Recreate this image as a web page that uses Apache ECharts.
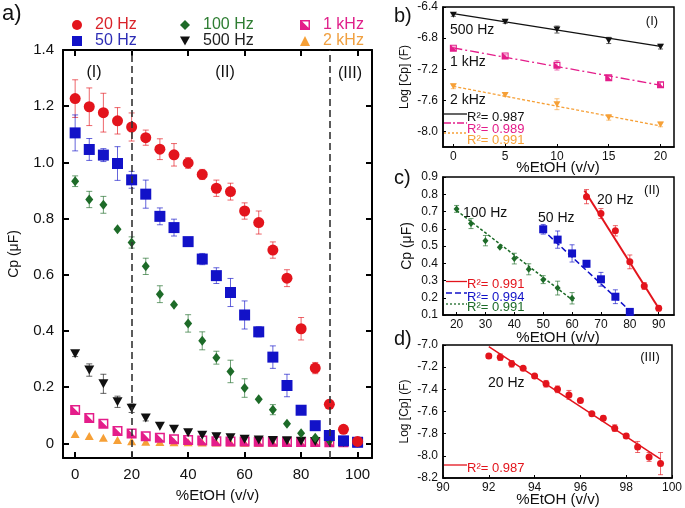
<!DOCTYPE html>
<html><head><meta charset="utf-8">
<script src="https://cdn.jsdelivr.net/npm/echarts@6.0.0/dist/echarts.min.js"></script>
<style>html,body{margin:0;padding:0;background:#fff}#c{width:685px;height:508px}</style>
</head><body><div id="c"></div>
<script>
const FONT = "'Liberation Sans', Arial, Helvetica, sans-serif";

// ---------- Panel a data ----------
const xA = [0,5,10,15,20,25,30,35,40,45,50,55,60,65,70,75,80,85,90,95,100];
const hz20 = [1.227,1.198,1.177,1.148,1.126,1.088,1.047,1.027,0.998,0.957,0.908,0.896,0.827,0.786,0.688,0.588,0.408,0.268,0.139,0.050,0.007];
const hz20Err = [0.067,0.067,0.069,0.047,0.05,0.027,0.037,0.04,0.019,0.018,0.029,0.03,0.029,0.041,0.029,0.03,0.04,0.02,0.015,0,0];
const hz50 = [1.105,1.046,1.026,0.996,0.938,0.887,0.808,0.768,0.718,0.656,0.597,0.537,0.457,0.397,0.307,0.206,0.118,0.063,0.028,0.009,0.004];
const hz50Err = [0.064,0.039,0.023,0.06,0.03,0.05,0.03,0.03,0,0.02,0.028,0.05,0.05,0.018,0.04,0.04,0,0,0,0,0];
const hz100 = [0.933,0.868,0.849,0.762,0.715,0.630,0.531,0.493,0.427,0.365,0.305,0.256,0.197,0.157,0.120,0.070,0.036,0.020,0.010,0.005,0.003];
const hz100Err = [0.019,0.029,0.03,0,0.02,0.029,0.03,0,0.031,0.032,0.023,0.04,0.033,0,0.018,0,0,0,0,0,0];
const hz500 = [0.319,0.261,0.212,0.148,0.125,0.090,0.061,0.050,0.038,0.029,0.024,0.020,0.015,0.012,0.010,0.009,0.008,0.007,0.006,0.005,0.004];
const hz500Err = [0.01,0.022,0.034,0.02,0.015,0.01,0,0,0,0,0,0,0,0,0,0,0,0,0,0,0];
const k1 = [0.119,0.090,0.070,0.044,0.035,0.025,0.020,0.015,0.012,0.010,0.008,0.007,0.007,0.006,0.006,0.005,0.005,0.005,0.004,0.004,0.004];
const k2 = [0.033,0.026,0.020,0.012,0.008,0.006,0.005,0.004,0.004,0.003,0.003,0.003,0.002,0.002,0.002,0.002,0.002,0.002,0.002,0.002,0.002];
const aTicksX = [0,20,40,60,80,100];
const aTicksY = [0,0.2,0.4,0.6,0.8,1.0,1.2,1.4];
const aRegions = [20,90];

// ---------- Panel b data ----------
const xB = [0,5,10,15,20];
const b500 = [-6.50,-6.59,-6.69,-6.83,-6.91];
const b500Err = [0.02,0.02,0.045,0.04,0.03];
const b1k = [-6.93,-7.03,-7.15,-7.31,-7.40];
const b1kErr = [0.015,0.015,0.06,0.03,0.03];
const b2k = [-7.42,-7.53,-7.65,-7.82,-7.91];
const b2kErr = [0.03,0.02,0.07,0.035,0.03];
const bFit500 = [[0,-6.484],[20,-6.905]];
const bFit1k = [[0,-6.926],[20,-7.405]];
const bFit2k = [[0,-7.42],[20,-7.93]];
const bTicksX = [0,5,10,15,20];
const bTicksY = [-8.0,-7.6,-7.2,-6.8,-6.4];

// ---------- Panel c (subsets of panel a) ----------
const cRange20 = [65,90], cRange50 = [50,80], cRange100 = [20,60];
const cFit20 = [[64.3,0.822],[90.6,0.123]];
const cFit50 = [[49.5,0.599],[81.6,0.1]];
const cFit100 = [[20,0.706],[60.5,0.182]];
const cTicksX = [20,30,40,50,60,70,80,90];
const cTicksY = [0.1,0.2,0.3,0.4,0.5,0.6,0.7,0.8,0.9];

// ---------- Panel d data ----------
const xD = [92,92.5,93,93.5,94,94.5,95,95.5,96,96.5,97,97.5,98,98.5,99,99.5];
const dVals = [-7.10,-7.11,-7.17,-7.21,-7.28,-7.35,-7.40,-7.45,-7.50,-7.62,-7.66,-7.75,-7.82,-7.92,-8.01,-8.07];
const dErr = [0.02,0.03,0.03,0.01,0.01,0.03,0.03,0.04,0.01,0.01,0.02,0.03,0.02,0.05,0.04,0.1];
const dFit = [[92,-7.015],[99.5,-8.03]];
const dTicksX = [90,92,94,96,98,100];
const dTicksY = [-8.2,-8.0,-7.8,-7.6,-7.4,-7.2,-7.0];

// ---------- styles ----------
const RED='#e3141c', BLUE='#1212c8', GREEN='#1d6b28', BLACK='#111111', PINK='#e41d8a', ORANGE='#f6a037';
const SYM_HALF = 'path://M0,0L10,0L10,10L0,10Z M2.2,1.5L8.5,7.8L8.5,1.5Z';
const SYM_DOWN = 'path://M0,0L10,0L5,9Z';

function pts(xs, ys){ return xs.map((x,i)=>[x, ys[i]]); }
function errs(xs, ys, es){ const out=[]; xs.forEach((x,i)=>{ if(es[i]>0) out.push([x, ys[i]-es[i], ys[i]+es[i]]); }); return out; }
function sub(xs, ys, r){ const out=[]; xs.forEach((x,i)=>{ if(x>=r[0]&&x<=r[1]) out.push([x, ys[i]]); }); return out; }
function subErr(xs, ys, es, r){ const out=[]; xs.forEach((x,i)=>{ if(x>=r[0]&&x<=r[1]&&es[i]>0) out.push([x, ys[i]-es[i], ys[i]+es[i]]); }); return out; }

function errSeries(data, color, gi, cap, lw){
  return {type:'custom', xAxisIndex:gi.x, yAxisIndex:gi.y, data:data, silent:true, clip:true, z:1,
    encode:{x:0,y:[1,2]},
    renderItem:function(params, api){
      const x=api.value(0), lo=api.value(1), hi=api.value(2);
      const a=api.coord([x,hi]), b=api.coord([x,lo]);
      const st={stroke:color, lineWidth:lw, opacity:0.65};
      return {type:'group', children:[
        {type:'line', shape:{x1:a[0],y1:a[1],x2:b[0],y2:b[1]}, style:st},
        {type:'line', shape:{x1:a[0]-cap,y1:a[1],x2:a[0]+cap,y2:a[1]}, style:st},
        {type:'line', shape:{x1:b[0]-cap,y1:b[1],x2:b[0]+cap,y2:b[1]}, style:st}
      ]};
    }};
}
function scat(name, data, gi, symbol, size, color, extra){
  return Object.assign({name:name, type:'scatter', xAxisIndex:gi.x, yAxisIndex:gi.y, data:data, symbol:symbol, symbolSize:size,
    itemStyle:{color:color, opacity:1}, z:3, silent:true}, extra||{});
}
function fit(data, gi, color, type, w){
  return {type:'line', xAxisIndex:gi.x, yAxisIndex:gi.y, data:data, symbol:'none', silent:true, z:2,
    lineStyle:{color:color, type:type, width:w}};
}

const GA={x:0,y:0}, GB={x:2,y:2}, GC={x:3,y:3}, GD={x:4,y:4};

function fmt1(v){ return Math.abs(v)<1e-9 ? '0' : v.toFixed(1); }

function xAx(gi, min, max, ticks, opts){
  return Object.assign({gridIndex:gi, type:'value', min:min, max:max, position:'bottom',
    axisLine:{show:true, onZero:false, lineStyle:{color:'#000', width:1.5}},
    axisTick:{show:true, inside:true, length:3, customValues:ticks, lineStyle:{color:'#000', width:1}},
    axisLabel:{customValues:ticks, fontSize:12, color:'#111', fontFamily:FONT, margin:4},
    splitLine:{show:false}}, opts||{});
}
function yAx(gi, min, max, ticks, opts){
  return Object.assign({gridIndex:gi, type:'value', min:min, max:max, position:'left',
    axisLine:{show:true, onZero:false, lineStyle:{color:'#000', width:1.5}},
    axisTick:{show:true, inside:true, length:3, customValues:ticks, lineStyle:{color:'#000', width:1}},
    axisLabel:{customValues:ticks, fontSize:12, color:'#111', fontFamily:FONT, margin:5, formatter:fmt1},
    splitLine:{show:false}}, opts||{});
}

const aAxisLine = {show:true, onZero:false, lineStyle:{color:'#000', width:2}};
const aTick = (vals)=>({show:true, inside:true, length:6, customValues:vals, lineStyle:{color:'#000', width:2}});

const xAxes = [
  {gridIndex:0, type:'value', min:-4.3, max:105.1, position:'bottom', axisLine:aAxisLine, axisTick:aTick(aTicksX),
   axisLabel:{customValues:aTicksX, fontSize:15, color:'#111', fontFamily:FONT, margin:9}, splitLine:{show:false},
   name:'%EtOH (v/v)', nameLocation:'middle', nameGap:30, nameTextStyle:{fontSize:15, color:'#111', fontFamily:FONT}},
  {gridIndex:0, type:'value', min:-4.3, max:105.1, position:'top', axisLine:aAxisLine, axisTick:aTick(aTicksX),
   axisLabel:{show:false}, splitLine:{show:false}},
  xAx(1, -1, 21.3, bTicksX),
  xAx(2, 15.3, 95.3, cTicksX),
  xAx(3, 90, 100, dTicksX)
];
const yAxes = [
  {gridIndex:0, type:'value', min:-0.052, max:1.4, position:'left', axisLine:aAxisLine, axisTick:aTick(aTicksY),
   axisLabel:{customValues:aTicksY, fontSize:15, color:'#111', fontFamily:FONT, margin:9, formatter:fmt1}, splitLine:{show:false},
   name:'Cp (\u03bcF)', nameLocation:'middle', nameGap:42, nameRotate:90, nameTextStyle:{fontSize:14, color:'#111', fontFamily:FONT}},
  {gridIndex:0, type:'value', min:-0.052, max:1.4, position:'right', axisLine:aAxisLine, axisTick:aTick(aTicksY),
   axisLabel:{show:false}, splitLine:{show:false}},
  yAx(1, -8.2, -6.4, bTicksY, {name:'Log [Cp] (F)', nameLocation:'middle', nameGap:32, nameRotate:90, nameTextStyle:{fontSize:12, color:'#111', fontFamily:FONT}}),
  yAx(2, 0.1, 0.9, cTicksY, {name:'Cp (\u03bcF)', nameLocation:'middle', nameGap:29, nameRotate:90, nameTextStyle:{fontSize:14, color:'#111', fontFamily:FONT}}),
  yAx(3, -8.2, -7.0, dTicksY, {name:'Log [Cp] (F)', nameLocation:'middle', nameGap:32, nameRotate:90, nameTextStyle:{fontSize:12, color:'#111', fontFamily:FONT}})
];

const grids = [
  {left:63, top:50, width:309, height:416},
  {left:443, top:7, width:231, height:140, show:true, borderColor:'#000', borderWidth:1.5},
  {left:443, top:177, width:231, height:138, show:true, borderColor:'#000', borderWidth:1.5},
  {left:443, top:345, width:231, height:133, show:true, borderColor:'#000', borderWidth:1.5}
];

const series = [
  // panel a
  errSeries(errs(xA,hz20,hz20Err), RED, GA, 3, 1),
  errSeries(errs(xA,hz50,hz50Err), BLUE, GA, 3, 1),
  errSeries(errs(xA,hz100,hz100Err), GREEN, GA, 3, 1),
  errSeries(errs(xA,hz500,hz500Err), BLACK, GA, 3, 1),
  scat('2 kHz', pts(xA,k2), GA, 'triangle', [9,8], ORANGE),
  scat('1 kHz', pts(xA,k1), GA, SYM_HALF, 10, PINK),
  scat('500 Hz', pts(xA,hz500), GA, SYM_DOWN, [10,9], BLACK),
  scat('100 Hz', pts(xA,hz100), GA, 'diamond', [8,10], GREEN),
  scat('50 Hz', pts(xA,hz50), GA, 'rect', 11, BLUE),
  scat('20 Hz', pts(xA,hz20), GA, 'circle', 11, RED, {
    markLine:{silent:true, symbol:'none', label:{show:false}, animation:false,
      lineStyle:{type:[7,4], color:'#333', width:1.6},
      data: aRegions.map(v=>({xAxis:v}))}
  }),
  // panel b
  fit(bFit500, GB, BLACK, 'solid', 1.3),
  fit(bFit1k, GB, PINK, [9,3,2,3], 1.3),
  fit(bFit2k, GB, ORANGE, [3,2], 1.3),
  errSeries(errs(xB,b500,b500Err), BLACK, GB, 2.5, 1),
  errSeries(errs(xB,b1k,b1kErr), PINK, GB, 2.5, 1),
  errSeries(errs(xB,b2k,b2kErr), ORANGE, GB, 2.5, 1),
  scat('b500', pts(xB,b500), GB, SYM_DOWN, [7,6], BLACK),
  scat('b1k', pts(xB,b1k), GB, SYM_HALF, 7, PINK),
  scat('b2k', pts(xB,b2k), GB, SYM_DOWN, [7,6], ORANGE),
  // panel c
  fit(cFit20, GC, RED, 'solid', 2),
  fit(cFit50, GC, BLUE, [6,3], 1.5),
  fit(cFit100, GC, GREEN, [3,2], 1.5),
  errSeries(subErr(xA,hz20,hz20Err,cRange20), RED, GC, 2.5, 1),
  errSeries(subErr(xA,hz50,hz50Err,cRange50), BLUE, GC, 2.5, 1),
  errSeries(subErr(xA,hz100,hz100Err,cRange100), GREEN, GC, 2.5, 1),
  scat('c20', sub(xA,hz20,cRange20), GC, 'circle', 7, RED),
  scat('c50', sub(xA,hz50,cRange50), GC, 'rect', 8, BLUE),
  scat('c100', sub(xA,hz100,cRange100), GC, 'diamond', [6,7], GREEN),
  // panel d
  fit(dFit, GD, RED, 'solid', 1.5),
  errSeries(errs(xD,dVals,dErr), RED, GD, 2.5, 1),
  scat('d20', pts(xD,dVals), GD, 'circle', 7, RED)
];

const legendItems = [
  ['20 Hz', '#d9232a', 72, 17],
  ['50 Hz', '#2d2db5', 72, 33],
  ['100 Hz', '#2e7d32', 180, 17],
  ['500 Hz', '#222222', 180, 33],
  ['1 kHz', '#e0208a', 300, 17],
  ['2 kHz', '#f0a040', 300, 33]
];
const legends = legendItems.map(it=>({
  data:[{name:it[0], textStyle:{color:it[1]}}], left:it[2], top:it[3], padding:0,
  itemWidth:10, itemHeight:10, selectedMode:false,
  textStyle:{fontSize:16, fontFamily:FONT, color:it[1], padding:[0,0,0,8]}
}));

function txt(x, y, s, size, color, align){
  return {type:'text', x:x, y:y, silent:true, style:{text:s, font:size+'px '+FONT, fill:color||'#111', align:align||'left', verticalAlign:'middle'}};
}
function seg(x1, x2, y, color, dash, w){
  return {type:'line', silent:true, shape:{x1:x1,y1:y,x2:x2,y2:y}, style:{stroke:color, lineWidth:w||1.3, lineDash:dash||null}};
}

const graphics = [
  txt(2, 14, 'a)', 22, '#111'),
  txt(94, 73, '(I)', 16, '#111', 'center'),
  txt(225, 73, '(II)', 16, '#111', 'center'),
  txt(350, 74, '(III)', 16, '#111', 'center'),
  // b
  txt(394, 16, 'b)', 20, '#111'),
  txt(450, 30, '500 Hz', 14, '#111'),
  txt(450, 62, '1 kHz', 14, '#111'),
  txt(450, 100, '2 kHz', 14, '#111'),
  txt(652, 21, '(I)', 13, '#111', 'center'),
  seg(444, 467, 114, BLACK, null),
  txt(467, 117, 'R\u00b2= 0.987', 13, '#111'),
  seg(444, 467, 123, PINK, [7,2,2,2]),
  txt(467, 129, 'R\u00b2= 0.989', 13, PINK),
  seg(444, 467, 133, ORANGE, [2,2]),
  txt(467, 140, 'R\u00b2= 0.991', 13, ORANGE),
  txt(558, 168, '%EtOH (v/v)', 15, '#111', 'center'),
  // c
  txt(394, 178, 'c)', 20, '#111'),
  txt(463, 213, '100 Hz', 14, '#111'),
  txt(538, 218, '50 Hz', 14, '#111'),
  txt(597, 200, '20 Hz', 14, '#111'),
  txt(652, 190, '(II)', 13, '#111', 'center'),
  seg(446, 467, 281.5, RED, null),
  txt(467, 284, 'R\u00b2= 0.991', 13, RED),
  seg(446, 467, 293, BLUE, [6,3]),
  txt(467, 297, 'R\u00b2= 0.994', 13, BLUE),
  seg(446, 467, 304, GREEN, [2,2]),
  txt(467, 307, 'R\u00b2= 0.991', 13, GREEN),
  txt(558, 338, '%EtOH (v/v)', 15, '#111', 'center'),
  // d
  txt(394, 339, 'd)', 20, '#111'),
  txt(488, 383, '20 Hz', 14, '#111'),
  txt(650, 357, '(III)', 13, '#111', 'center'),
  seg(444, 467, 465, RED, null),
  txt(467, 468, 'R\u00b2= 0.987', 13, RED),
  txt(558, 500, '%EtOH (v/v)', 15, '#111', 'center')
];

const chart = echarts.init(document.getElementById('c'), null, {renderer:'canvas'});
chart.setOption({
  animation:false,
  backgroundColor:'#fff',
  textStyle:{fontFamily:FONT},
  grid:grids, xAxis:xAxes, yAxis:yAxes, legend:legends, series:series, graphic:graphics
});
</script>
</body></html>
